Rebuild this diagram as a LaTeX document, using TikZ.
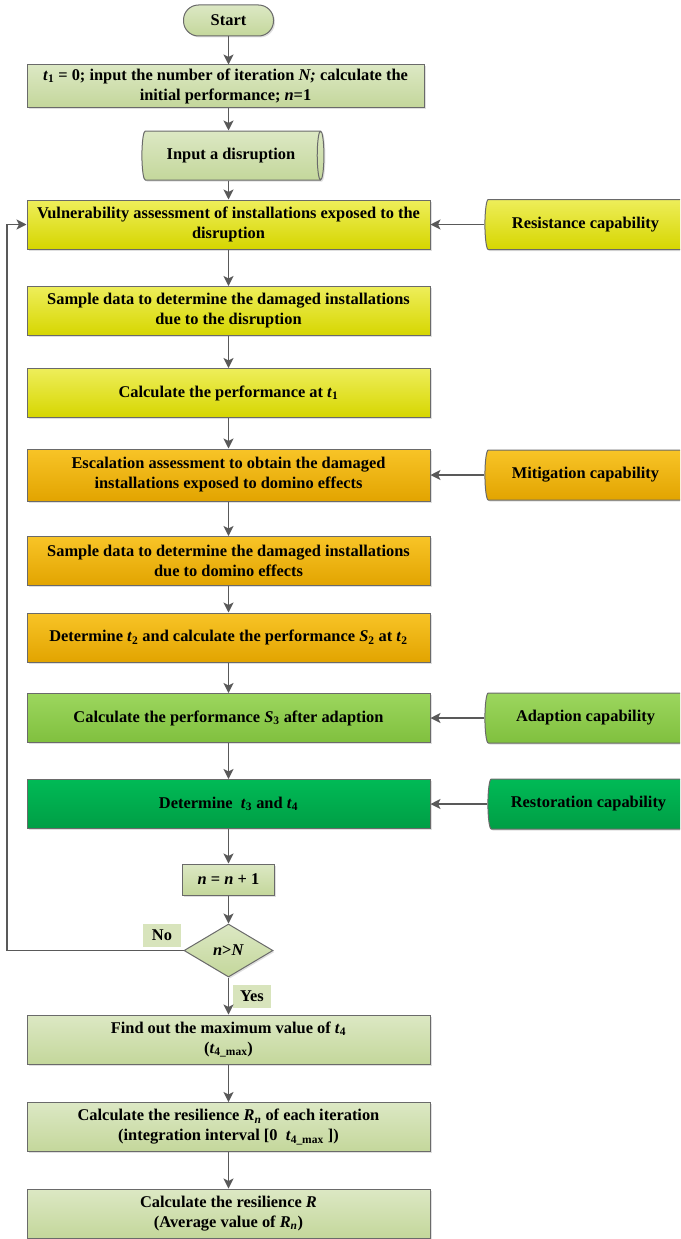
\documentclass[tikz,border=0pt]{standalone}
\usepackage{fontspec}
\setmainfont{Liberation Serif}
\usetikzlibrary{shapes.geometric,arrows.meta,shadows}
\definecolor{bordergray}{HTML}{6A6A6A}
\definecolor{arrowgray}{HTML}{595959}
\definecolor{gtop}{HTML}{DCE8C4}
\definecolor{gbot}{HTML}{C4D79B}
\definecolor{ytop}{HTML}{EEEE5A}
\definecolor{ybot}{HTML}{D6D600}
\definecolor{otop}{HTML}{F8C427}
\definecolor{obot}{HTML}{E2A400}
\definecolor{lgtop}{HTML}{9CD65E}
\definecolor{lgbot}{HTML}{80C03E}
\definecolor{dgtop}{HTML}{00BA56}
\definecolor{dgbot}{HTML}{009E45}
\definecolor{lblfill}{HTML}{D8E4BC}
\newcommand\fsz{\fontsize{16.4}{20}\selectfont\bfseries}
\newcommand\ti[2]{\textit{#1}\textsubscript{#2}}
\tikzset{
  base/.style={draw=bordergray, line width=1pt, font=\fsz, align=center, inner sep=0pt,
    drop shadow={shadow xshift=1.5pt, shadow yshift=-1.5pt, opacity=0.25}},
  gbox/.style={base, top color=gtop, bottom color=gbot, minimum width=403pt, minimum height=49pt},
  ybox/.style={gbox, top color=ytop, bottom color=ybot},
  obox/.style={gbox, top color=otop, bottom color=obot},
  lgbox/.style={gbox, top color=lgtop, bottom color=lgbot},
  dgbox/.style={gbox, top color=dgtop, bottom color=dgbot},
  cyl/.style={base, cylinder, shape aspect=0.45, minimum width=50pt, minimum height=205pt},
  lbl/.style={fill=lblfill, font=\fsz, minimum width=38pt, minimum height=23pt, inner sep=0pt},
  arr/.style={draw=arrowgray, line width=1.3pt, -{Stealth[length=10pt,width=10pt,inset=2.5pt]}},
}
\begin{document}
\begin{tikzpicture}[x=1pt,y=-1pt]
\useasboundingbox (0,0) rectangle (680,1239);
\clip (0,0) rectangle (680,1239);
\node[base, top color=gtop, bottom color=gbot, rounded corners=15pt, minimum width=90pt, minimum height=31pt] (start) at (228.5,20.5) {Start};
\node[gbox, minimum width=397pt, minimum height=42pt] (b1) at (225.5,86) {\ti{t}{1} = 0; input the number of iteration \textit{N;} calculate the\\ initial performance; \textit{n}=1};
\node[base, cylinder, shape aspect=0.45, top color=gtop, bottom color=gbot, minimum height=182pt, minimum width=49pt] (inp) at (231,155.5) {Input a disruption};
\node[ybox] (vuln) at (228.5,224.5) {Vulnerability assessment of installations exposed to the\\ disruption};
\node[ybox] (samp1) at (228.5,311) {Sample data to determine the damaged installations\\ due to the disruption};
\node[ybox] (calc1) at (228.5,393) {Calculate the performance at \ti{t}{1}};
\node[obox, minimum height=52pt] (esc) at (228.5,475) {Escalation assessment to obtain the damaged\\ installations exposed to domino effects};
\node[obox] (samp2) at (228.5,561) {Sample data to determine the damaged installations\\ due to domino effects};
\node[obox] (det2) at (228.5,637.5) {Determine \ti{t}{2} and calculate the performance \ti{S}{2} at \ti{t}{2}};
\node[lgbox] (s3) at (228.5,718) {Calculate the performance \ti{S}{3} after adaption};
\node[dgbox] (t34) at (228.5,804) {Determine~~\ti{t}{3} and \ti{t}{4}};
\node[gbox, minimum width=92pt, minimum height=31pt] (inc) at (228.5,879.5) {\textit{n} = \textit{n} + 1};
\node[base, diamond, aspect=1.68, top color=gtop, bottom color=gbot, minimum width=89pt, minimum height=53pt] (dia) at (228.5,950.5) {\textit{n}>\textit{N}};
\node[lbl] (no) at (162,935.5) {No};
\node[lbl] (yes) at (252,996.5) {Yes};
\node[gbox] (find) at (228.5,1039.5) {Find out the maximum value of \ti{t}{4}\\ (\ti{t}{4\_max})};
\node[gbox] (rn) at (228.5,1127) {Calculate the resilience \textit{R}\textsubscript{\textit{n}} of each iteration\\ (integration interval [0~~\ti{t}{4\_max} ])};
\node[gbox] (rr) at (228.5,1213.5) {Calculate the resilience \textit{R}\\ (Average value of \textit{R}\textsubscript{\textit{n}})};
% capabilities
\node[cyl, top color=ytop, bottom color=ybot] (res) at (585.5,224.5) {Resistance capability};
\node[cyl, top color=otop, bottom color=obot] (mit) at (585.5,475) {Mitigation capability};
\node[cyl, top color=lgtop, bottom color=lgbot] (ada) at (585.5,718) {Adaption capability};
\node[cyl, top color=dgtop, bottom color=dgbot] (rest) at (588.5,804) {Restoration capability};
% connectors
\draw[arr] (start) -- (start |- b1.north);
\draw[arr] (start |- b1.south) -- (start |- inp.north);
\draw[arr] (start |- inp.south) -- (vuln);
\draw[arr] (vuln) -- (samp1);
\draw[arr] (samp1) -- (calc1);
\draw[arr] (calc1) -- (esc);
\draw[arr] (esc) -- (samp2);
\draw[arr] (samp2) -- (det2);
\draw[arr] (det2) -- (s3);
\draw[arr] (s3) -- (t34);
\draw[arr] (t34) -- (inc);
\draw[arr] (inc) -- (dia);
\draw[arr] (dia) -- (find);
\draw[arr] (find) -- (rn);
\draw[arr] (rn) -- (rr);
\coordinate (lp) at (7,950.5);
\draw[arr] (dia.west) -- (lp) |- (vuln.west);
\draw[arr] (res.west) -- (vuln.east);
\draw[arr] (mit.west) -- (esc.east);
\draw[arr] (ada.west) -- (s3.east);
\draw[arr] (rest.west) -- (t34.east);
\end{tikzpicture}
\end{document}
